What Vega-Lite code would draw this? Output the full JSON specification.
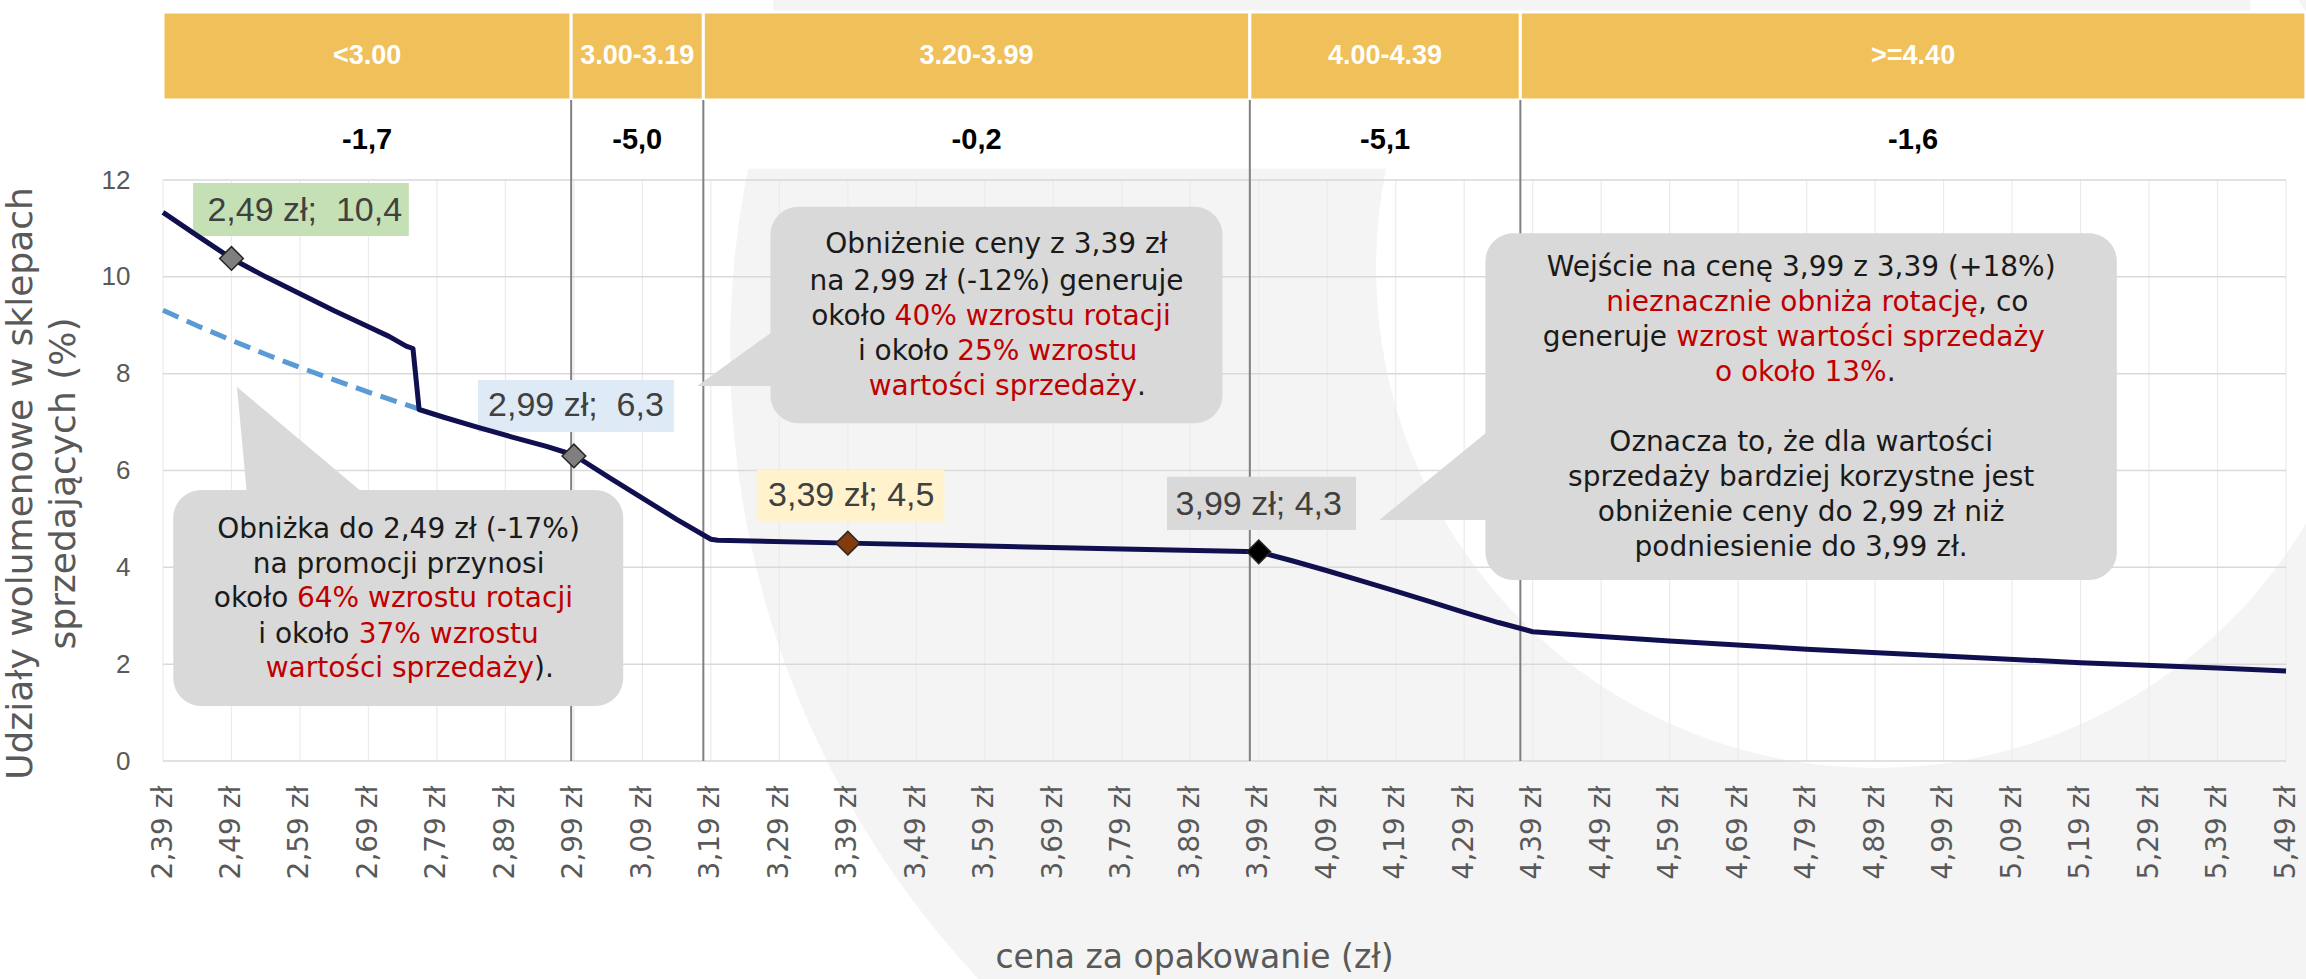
{
  "$schema": "https://vega.github.io/schema/vega-lite/v6.json",
  "width": 2123,
  "height": 581,
  "autosize": {"type": "none"},
  "padding": {"left": 163, "top": 180, "right": 20, "bottom": 218},
  "background": "#ffffff",
  "config": {
    "view": {"stroke": null},
    "axis": {"ticks": false, "domain": false, "grid": false, "labelColor": "#595959", "titleColor": "#595959"},
    "axisX": {"labelAngle": -90, "labelFont": "DejaVu Sans", "labelFontSize": 28, "labelPadding": 24, "labelOverlap": false, "labelBound": false, "labelFlush": false, "titleFont": "DejaVu Sans", "titleFontSize": 33, "titleFontWeight": "normal", "titlePadding": 63, "titleX": 1031},
    "axisY": {"labelFont": "Liberation Sans", "labelFontSize": 26, "labelPadding": 33, "titleFont": "DejaVu Sans", "titleFontSize": 36, "titleFontWeight": "normal", "titleLineHeight": 43, "titlePadding": 19, "titleY": 303}
  },
  "datasets": {
    "logo": [
      {"p": 4.5615, "v": 8.488, "part": "outer"},
      {"p": 4.8914, "v": 10.182, "part": "inner"}
    ],
    "vgrid": [
      {"g": 2.39}, {"g": 2.49}, {"g": 2.59}, {"g": 2.69}, {"g": 2.79}, {"g": 2.89}, {"g": 2.99}, {"g": 3.09},
      {"g": 3.19}, {"g": 3.29}, {"g": 3.39}, {"g": 3.49}, {"g": 3.59}, {"g": 3.69}, {"g": 3.79}, {"g": 3.89},
      {"g": 3.99}, {"g": 4.09}, {"g": 4.19}, {"g": 4.29}, {"g": 4.39}, {"g": 4.49}, {"g": 4.59}, {"g": 4.69},
      {"g": 4.79}, {"g": 4.89}, {"g": 4.99}, {"g": 5.09}, {"g": 5.19}, {"g": 5.29}, {"g": 5.39}, {"g": 5.49}
    ],
    "hgrid": [{"g": 0}, {"g": 2}, {"g": 4}, {"g": 6}, {"g": 8}, {"g": 10}, {"g": 12}],
    "bands": [
      {"x0": 2.39, "x1": 2.986, "xm": 2.688, "label": "<3.00", "el": "-1,7"},
      {"x0": 2.986, "x1": 3.179, "xm": 3.0825, "label": "3.00-3.19", "el": "-5,0"},
      {"x0": 3.179, "x1": 3.977, "xm": 3.578, "label": "3.20-3.99", "el": "-0,2"},
      {"x0": 3.977, "x1": 4.372, "xm": 4.1745, "label": "4.00-4.39", "el": "-5,1"},
      {"x0": 4.372, "x1": 5.519, "xm": 4.9455, "label": ">=4.40", "el": "-1,6"}
    ],
    "cuts": [{"xc": 2.986}, {"xc": 3.179}, {"xc": 3.977}, {"xc": 4.372}],
    "tags": [
      {"x0": 2.434, "x1": 2.749, "y0": 10.843, "y1": 11.937, "xt": 2.597, "yt": 11.37, "txt": "2,49 zł;\u00a0 10,4", "kind": "green"},
      {"x0": 2.85, "x1": 3.136, "y0": 6.795, "y1": 7.869, "xt": 2.993, "yt": 7.332, "txt": "2,99 zł;\u00a0 6,3", "kind": "blue"},
      {"x0": 3.257, "x1": 3.531, "y0": 4.942, "y1": 6.01, "xt": 3.395, "yt": 5.473, "txt": "3,39 zł; 4,5", "kind": "yellow"},
      {"x0": 3.856, "x1": 4.132, "y0": 4.771, "y1": 5.872, "xt": 3.99, "yt": 5.287, "txt": "3,99 zł; 4,3", "kind": "grey"}
    ],
    "bubbles": [
      {"x0": 2.405, "x1": 3.062, "y0": 1.136, "y1": 5.597},
      {"x0": 3.277, "x1": 3.937, "y0": 6.974, "y1": 11.448},
      {"x0": 4.321, "x1": 5.243, "y0": 3.738, "y1": 10.898}
    ],
    "tails": [
      {"id": 1, "x": 2.498, "y": 7.725, "y2": 7.725},
      {"id": 1, "x": 2.513, "y": 7.547, "y2": 5.45},
      {"id": 1, "x": 2.677, "y": 5.598, "y2": 5.45},
      {"id": 2, "x": 3.17, "y": 7.745, "y2": 7.745},
      {"id": 2, "x": 3.3, "y": 9.07, "y2": 7.745},
      {"id": 3, "x": 4.166, "y": 4.977, "y2": 4.977},
      {"id": 3, "x": 4.34, "y": 6.987, "y2": 4.977}
    ],
    "notes": [
      {"t": "Obniżka do 2,49 zł (-17%)", "x": 2.734, "y": 4.777, "tone": "plain", "anc": "m"},
      {"t": "na promocji przynosi", "x": 2.734, "y": 4.048, "tone": "plain", "anc": "m"},
      {"t": "około", "x": 2.573, "y": 3.337, "tone": "plain", "anc": "e"},
      {"t": "64% wzrostu rotacji", "x": 2.5855, "y": 3.337, "tone": "accent", "anc": "s"},
      {"t": "i około", "x": 2.6623, "y": 2.61, "tone": "plain", "anc": "e"},
      {"t": "37% wzrostu", "x": 2.6758, "y": 2.61, "tone": "accent", "anc": "s"},
      {"t": "wartości sprzedaży", "x": 2.9317, "y": 1.89, "tone": "accent", "anc": "e"},
      {"t": ").", "x": 2.9317, "y": 1.89, "tone": "plain", "anc": "s"},
      {"t": "Obniżenie ceny z 3,39 zł", "x": 3.607, "y": 10.657, "tone": "plain", "anc": "m"},
      {"t": "na 2,99 zł (-12%) generuje", "x": 3.607, "y": 9.899, "tone": "plain", "anc": "m"},
      {"t": "około", "x": 3.4454, "y": 9.176, "tone": "plain", "anc": "e"},
      {"t": "40% wzrostu rotacji", "x": 3.4583, "y": 9.176, "tone": "accent", "anc": "s"},
      {"t": "i około", "x": 3.5379, "y": 8.453, "tone": "plain", "anc": "e"},
      {"t": "25% wzrostu", "x": 3.5496, "y": 8.453, "tone": "accent", "anc": "s"},
      {"t": "wartości sprzedaży", "x": 3.8123, "y": 7.73, "tone": "accent", "anc": "e"},
      {"t": ".", "x": 3.8123, "y": 7.73, "tone": "plain", "anc": "s"},
      {"t": "Wejście na cenę 3,99 z 3,39 (+18%)", "x": 4.782, "y": 10.176, "tone": "plain", "anc": "m"},
      {"t": "nieznacznie obniża rotację", "x": 5.0404, "y": 9.453, "tone": "accent", "anc": "e"},
      {"t": ", co", "x": 5.0404, "y": 9.453, "tone": "plain", "anc": "s"},
      {"t": "generuje", "x": 4.5863, "y": 8.73, "tone": "plain", "anc": "e"},
      {"t": "wzrost wartości sprzedaży", "x": 4.5997, "y": 8.73, "tone": "accent", "anc": "s"},
      {"t": "o około 13%", "x": 4.9069, "y": 8.007, "tone": "accent", "anc": "e"},
      {"t": ".", "x": 4.9069, "y": 8.007, "tone": "plain", "anc": "s"},
      {"t": "Oznacza to, że dla wartości", "x": 4.782, "y": 6.561, "tone": "plain", "anc": "m"},
      {"t": "sprzedaży bardziej korzystne jest", "x": 4.782, "y": 5.839, "tone": "plain", "anc": "m"},
      {"t": "obniżenie ceny do 2,99 zł niż", "x": 4.782, "y": 5.116, "tone": "plain", "anc": "m"},
      {"t": "podniesienie do 3,99 zł.", "x": 4.782, "y": 4.393, "tone": "plain", "anc": "m"}
    ],
    "promo": [
      {"p": 2.39, "v": 9.31}, {"p": 2.44, "v": 8.99}, {"p": 2.49, "v": 8.69}, {"p": 2.54, "v": 8.4},
      {"p": 2.59, "v": 8.13}, {"p": 2.64, "v": 7.87}, {"p": 2.69, "v": 7.62}, {"p": 2.73, "v": 7.43},
      {"p": 2.764, "v": 7.27}
    ],
    "main": [
      {"p": 2.39, "v": 11.33}, {"p": 2.44, "v": 10.85}, {"p": 2.49, "v": 10.38}, {"p": 2.54, "v": 10.0},
      {"p": 2.59, "v": 9.65}, {"p": 2.64, "v": 9.3}, {"p": 2.69, "v": 8.97}, {"p": 2.72, "v": 8.77},
      {"p": 2.745, "v": 8.57}, {"p": 2.755, "v": 8.52}, {"p": 2.764, "v": 7.26}, {"p": 2.8, "v": 7.1},
      {"p": 2.85, "v": 6.89}, {"p": 2.9, "v": 6.69}, {"p": 2.95, "v": 6.5}, {"p": 2.99, "v": 6.32},
      {"p": 3.04, "v": 5.87}, {"p": 3.09, "v": 5.43}, {"p": 3.14, "v": 4.99}, {"p": 3.19, "v": 4.58},
      {"p": 3.2, "v": 4.56}, {"p": 3.39, "v": 4.5}, {"p": 3.59, "v": 4.44}, {"p": 3.79, "v": 4.38},
      {"p": 3.99, "v": 4.32}, {"p": 4.04, "v": 4.13}, {"p": 4.09, "v": 3.93}, {"p": 4.14, "v": 3.72},
      {"p": 4.19, "v": 3.51}, {"p": 4.24, "v": 3.29}, {"p": 4.29, "v": 3.07}, {"p": 4.34, "v": 2.86},
      {"p": 4.39, "v": 2.67}, {"p": 4.49, "v": 2.57}, {"p": 4.59, "v": 2.48}, {"p": 4.79, "v": 2.31},
      {"p": 4.99, "v": 2.17}, {"p": 5.19, "v": 2.03}, {"p": 5.39, "v": 1.92}, {"p": 5.49, "v": 1.86}
    ],
    "points": [
      {"p": 2.49, "v": 10.38, "kind": "g"},
      {"p": 2.99, "v": 6.3, "kind": "g"},
      {"p": 3.39, "v": 4.5, "kind": "b"},
      {"p": 3.99, "v": 4.32, "kind": "k"}
    ]
  },
  "layer": [
    {
      "data": {"name": "main"},
      "mark": {"type": "line", "color": "#101050", "strokeWidth": 5, "opacity": 0},
      "encoding": {
        "x": {"field": "p", "type": "quantitative", "scale": {"domain": [2.39, 5.49], "nice": false, "zero": false},
          "axis": {"title": "cena za opakowanie (zł)", "zindex": 1, "grid": false, "values": [2.39, 2.49, 2.59, 2.69, 2.79, 2.89, 2.99, 3.09, 3.19, 3.29, 3.39, 3.49, 3.59, 3.69, 3.79, 3.89, 3.99, 4.09, 4.19, 4.29, 4.39, 4.49, 4.59, 4.69, 4.79, 4.89, 4.99, 5.09, 5.19, 5.29, 5.39, 5.49],
            "labelExpr": "replace(format(datum.value, '.2f'), '.', ',') + ' zł'"}},
        "y": {"field": "v", "type": "quantitative", "scale": {"domain": [0, 12], "nice": false, "zero": true},
          "axis": {"title": ["Udziały wolumenowe w sklepach", "sprzedających (%)"], "zindex": 1, "grid": false, "values": [0, 2, 4, 6, 8, 10, 12]}}
      }
    },
    {
      "data": {"name": "logo"},
      "transform": [{"filter": "datum.part == 'outer'"}],
      "mark": {"type": "point", "shape": "circle", "filled": true, "size": 3385600, "color": "#F4F4F4", "opacity": 1, "strokeWidth": 0},
      "encoding": {"x": {"field": "p", "type": "quantitative"}, "y": {"field": "v", "type": "quantitative"}}
    },
    {
      "data": {"name": "logo"},
      "transform": [{"filter": "datum.part == 'inner'"}],
      "mark": {"type": "point", "shape": "circle", "filled": true, "size": 1000000, "color": "#FFFFFF", "opacity": 1, "strokeWidth": 0},
      "encoding": {"x": {"field": "p", "type": "quantitative"}, "y": {"field": "v", "type": "quantitative"}}
    },
    {
      "data": {"values": [{"a": 3.281, "b": 5.438}]},
      "mark": {"type": "rect", "color": "#F4F4F4"},
      "encoding": {"x": {"field": "a", "type": "quantitative"}, "x2": {"field": "b"}, "y": {"datum": 15.47}, "y2": {"datum": 15.72}}
    },
    {
      "data": {"values": [{"a": 2.39, "b": 5.519}]},
      "mark": {"type": "rect", "color": "#FFFFFF"},
      "encoding": {"x": {"field": "a", "type": "quantitative"}, "x2": {"field": "b"}, "y": {"datum": 12.23}, "y2": {"datum": 13.652}}
    },
    {
      "data": {"name": "vgrid"},
      "mark": {"type": "rule", "color": "#EBEBEB", "strokeWidth": 1.2},
      "encoding": {"x": {"field": "g", "type": "quantitative"}, "y": {"datum": 0}, "y2": {"datum": 12}}
    },
    {
      "data": {"name": "hgrid"},
      "mark": {"type": "rule", "color": "#D9D9D9", "strokeWidth": 1.5},
      "encoding": {"y": {"field": "g", "type": "quantitative"}, "x": {"datum": 2.39}, "x2": {"datum": 5.49}}
    },
    {
      "data": {"name": "bands"},
      "mark": {"type": "rect", "fill": "#F0C05A", "stroke": "#FFFFFF", "strokeWidth": 3},
      "encoding": {"x": {"field": "x0", "type": "quantitative"}, "x2": {"field": "x1"}, "y": {"datum": 13.652}, "y2": {"datum": 15.47}}
    },
    {
      "data": {"name": "bands"},
      "mark": {"type": "text", "font": "Liberation Sans", "fontSize": 27, "fontWeight": "bold", "color": "#FFFFFF", "baseline": "middle", "align": "center"},
      "encoding": {"x": {"field": "xm", "type": "quantitative"}, "y": {"datum": 14.56}, "text": {"field": "label"}}
    },
    {
      "data": {"name": "bands"},
      "mark": {"type": "text", "font": "Liberation Sans", "fontSize": 29, "fontWeight": "bold", "color": "#000000", "baseline": "middle", "align": "center"},
      "encoding": {"x": {"field": "xm", "type": "quantitative"}, "y": {"datum": 12.82}, "text": {"field": "el"}}
    },
    {
      "data": {"name": "cuts"},
      "mark": {"type": "rule", "color": "#808080", "strokeWidth": 2},
      "encoding": {"x": {"field": "xc", "type": "quantitative"}, "y": {"datum": 0}, "y2": {"datum": 13.652}}
    },
    {
      "data": {"name": "tails"},
      "mark": {"type": "area", "color": "#D9D9D9", "opacity": 1},
      "encoding": {"x": {"field": "x", "type": "quantitative"}, "y": {"field": "y", "type": "quantitative"}, "y2": {"field": "y2"}, "detail": {"field": "id"}}
    },
    {
      "data": {"name": "bubbles"},
      "mark": {"type": "rect", "color": "#D9D9D9", "cornerRadius": 28},
      "encoding": {"x": {"field": "x0", "type": "quantitative"}, "x2": {"field": "x1"}, "y": {"field": "y0", "type": "quantitative"}, "y2": {"field": "y1"}}
    },
    {
      "data": {"name": "tags"},
      "mark": {"type": "rect"},
      "encoding": {"x": {"field": "x0", "type": "quantitative"}, "x2": {"field": "x1"}, "y": {"field": "y0", "type": "quantitative"}, "y2": {"field": "y1"},
        "fill": {"field": "kind", "type": "nominal", "scale": {"domain": ["green", "blue", "yellow", "grey"], "range": ["#C5E0B4", "#DEEBF7", "#FFF2CC", "#D9D9D9"]}, "legend": null}}
    },
    {
      "data": {"name": "tags"},
      "mark": {"type": "text", "font": "Liberation Sans", "fontSize": 34, "color": "#404040", "baseline": "middle", "align": "center"},
      "encoding": {"x": {"field": "xt", "type": "quantitative"}, "y": {"field": "yt", "type": "quantitative"}, "text": {"field": "txt"}}
    },
    {
      "data": {"name": "notes"},
      "transform": [{"filter": "datum.anc == 'm'"}],
      "mark": {"type": "text", "font": "DejaVu Sans", "fontSize": 28, "baseline": "middle", "align": "center"},
      "encoding": {"x": {"field": "x", "type": "quantitative"}, "y": {"field": "y", "type": "quantitative"}, "text": {"field": "t"},
        "color": {"field": "tone", "type": "nominal", "scale": {"domain": ["plain", "accent"], "range": ["#1A1A1A", "#C00000"]}, "legend": null}}
    },
    {
      "data": {"name": "notes"},
      "transform": [{"filter": "datum.anc == 'e'"}],
      "mark": {"type": "text", "font": "DejaVu Sans", "fontSize": 28, "baseline": "middle", "align": "right"},
      "encoding": {"x": {"field": "x", "type": "quantitative"}, "y": {"field": "y", "type": "quantitative"}, "text": {"field": "t"},
        "color": {"field": "tone", "type": "nominal", "scale": {"domain": ["plain", "accent"], "range": ["#1A1A1A", "#C00000"]}, "legend": null}}
    },
    {
      "data": {"name": "notes"},
      "transform": [{"filter": "datum.anc == 's'"}],
      "mark": {"type": "text", "font": "DejaVu Sans", "fontSize": 28, "baseline": "middle", "align": "left"},
      "encoding": {"x": {"field": "x", "type": "quantitative"}, "y": {"field": "y", "type": "quantitative"}, "text": {"field": "t"},
        "color": {"field": "tone", "type": "nominal", "scale": {"domain": ["plain", "accent"], "range": ["#1A1A1A", "#C00000"]}, "legend": null}}
    },
    {
      "data": {"name": "promo"},
      "mark": {"type": "line", "color": "#5B9BD5", "strokeWidth": 5, "strokeDash": [17, 9]},
      "encoding": {"x": {"field": "p", "type": "quantitative"}, "y": {"field": "v", "type": "quantitative"}}
    },
    {
      "data": {"name": "main"},
      "mark": {"type": "line", "color": "#101050", "strokeWidth": 5, "strokeJoin": "round"},
      "encoding": {"x": {"field": "p", "type": "quantitative"}, "y": {"field": "v", "type": "quantitative"}}
    },
    {
      "data": {"name": "points"},
      "mark": {"type": "point", "shape": "diamond", "size": 560, "filled": true, "stroke": "#262626", "strokeWidth": 1.5, "opacity": 1},
      "encoding": {"x": {"field": "p", "type": "quantitative"}, "y": {"field": "v", "type": "quantitative"},
        "fill": {"field": "kind", "type": "nominal", "scale": {"domain": ["g", "b", "k"], "range": ["#7F7F7F", "#843C0C", "#000000"]}, "legend": null}}
    }
  ],
  "resolve": {"scale": {"fill": "independent", "color": "independent"}}
}
